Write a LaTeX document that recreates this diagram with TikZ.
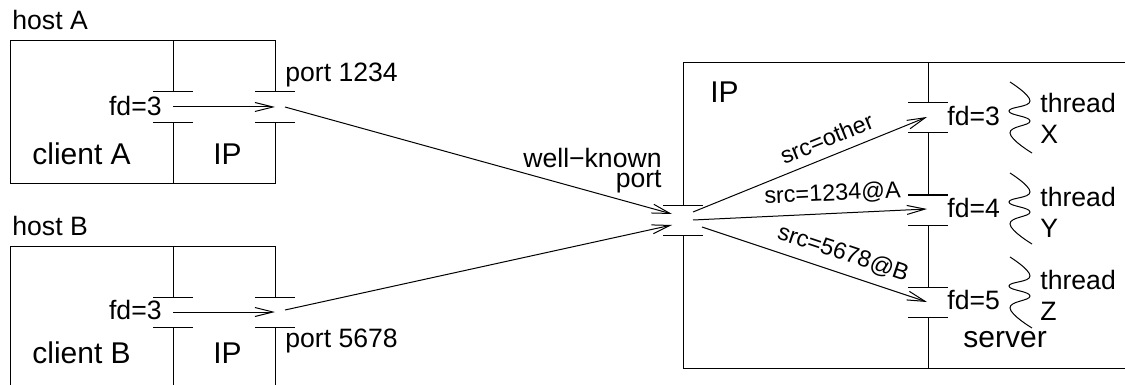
\documentclass[tikz,border=0pt]{standalone}
\usepackage{fontspec}
\setmainfont{Liberation Sans}
\usetikzlibrary{arrows.meta}
\tikzset{
  wall/.style={line width=0.5pt},
  pipe/.style={-{Straight Barb[length=9pt,width=4.5pt]}, line width=0.5pt},
  bigtxt/.style={inner sep=0pt, font=\fontsize{15}{18}\selectfont},
  midtxt/.style={inner sep=0pt, font=\fontsize{13.3}{15.5}\selectfont},
  srctxt/.style={inner sep=0pt, font=\fontsize{11.7}{13}\selectfont,
                 sloped, above=4.5pt},
}

\begin{document}
\begin{tikzpicture}[x=0.5pt, y=-0.5pt]
\useasboundingbox (0,0) rectangle (1125,385);

% host A
\draw[wall] (275,92) -- (275,41) -- (10,41) -- (10,184) -- (275,184) -- (275,123);
\draw[wall] (173,41) -- (173,92) (173,123) -- (173,184);
\draw[wall] (153,92) -- (193,92) (153,123) -- (193,123);
\draw[wall] (255,92) -- (295,92) (255,123) -- (295,123);
\node[midtxt, anchor=base west] (hostA) at (12,30) {host A};
\node[bigtxt, anchor=base west] (clientA) at (32,165) {client A};
\node[bigtxt, anchor=base west] (ipA) at (213,165) {IP};
\node[midtxt, anchor=base east] (fdA) at (162,116) {fd=3};
\node[midtxt, anchor=base west] (portA) at (285,82) {port 1234};
\coordinate (sockA) at (173,107);
\coordinate (outA) at (275,107);
\coordinate (fromA) at (285,107);

% host B, cut off at the bottom
\draw[wall] (10,400) -- (10,246) -- (275,246) -- (275,297) (275,327) -- (275,400);
\draw[wall] (173,246) -- (173,297) (173,327) -- (173,400);
\draw[wall] (153,297) -- (193,297) (153,327) -- (193,327);
\draw[wall] (255,297) -- (295,297) (255,327) -- (295,327);
\node[midtxt, anchor=base west] (hostB) at (12,235) {host B};
\node[bigtxt, anchor=base west] (clientB) at (32,363) {client B};
\node[bigtxt, anchor=base west] (ipB) at (213,363) {IP};
\node[midtxt, anchor=base east] (fdB) at (162,319) {fd=3};
\node[midtxt, anchor=base west] (portB) at (285,347) {port 5678};
\coordinate (sockB) at (173,312);
\coordinate (outB) at (275,312);
\coordinate (fromB) at (285,310);

% server host
\draw[wall] (1140,63) -- (683,63) -- (683,205) (683,235) -- (683,368) -- (1140,368);
\draw[wall] (928,63) -- (928,103) (928,133) -- (928,195) (928,225) -- (928,287)
  (928,317) -- (928,368);
\draw[wall] (663,205) -- (703,205) (663,235) -- (703,235);
\foreach \y in {103,133,195,225,287,317}
  \draw[wall] (908,\y) -- (948,\y);
\node[bigtxt, anchor=base west] (ipS) at (710,103) {IP};
\node[bigtxt, anchor=base west] (server) at (963,347) {server};
\node[midtxt, anchor=north east, align=right,
      font=\fontsize{13.3}{10}\selectfont] (wk) at (662,148) {well−known\\port};
\coordinate (inA) at (672,214);
\coordinate (inB) at (672,225);
\coordinate (wk1) at (693,212);
\coordinate (wk2) at (693,220);
\coordinate (wk3) at (702,227);

\foreach \c/\b/\n/\t/\top/\w in {117/126/3/X/93/82, 209/218/4/Y/187/173, 302/309/5/Z/270/257} {
  \node[midtxt, anchor=base west] (fd\n) at (947,\b) {fd=\n};
  \node[midtxt, anchor=north west, align=left] (th\t) at (1040,\top) {thread\\\t};
  \coordinate (in\n) at (927,\c);
  \draw[wall] plot[smooth, tension=0.8] coordinates {(1010,\w) (1030,\w+19)
    (1009,\w+29) (1030,\w+39) (1010,\w+51) (1032,\w+71)};
}

% data paths
\draw[pipe] (sockA) -- (outA);
\draw[pipe] (sockB) -- (outB);
\draw[pipe] (fromA) -- (inA);
\draw[pipe] (fromB) -- (inB);
\draw[pipe] (wk1) -- node[srctxt, pos=0.6] {src=other} (in3);
\draw[pipe] (wk2) -- node[srctxt, pos=0.6] {src=1234@A} (in4);
\draw[pipe] (wk3) -- node[srctxt, pos=0.6] {src=5678@B} (in5);

\end{tikzpicture}
\end{document}
